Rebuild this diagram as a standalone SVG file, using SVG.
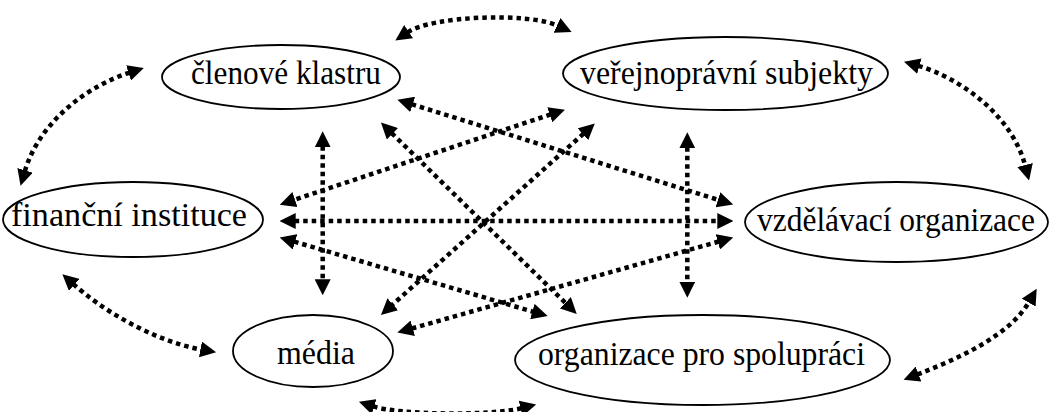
<svg xmlns="http://www.w3.org/2000/svg" width="1049" height="412" viewBox="0 0 1049 412">
  <style>
    .node ellipse { fill: #ffffff; stroke: #000000; stroke-width: 1.8; }
    .node text { font-family: 'Liberation Serif', 'Times New Roman', 'DejaVu Serif', serif; font-size: 33px; fill: #000000; text-anchor: middle; }
    .link { fill: none; stroke: #000000; stroke-width: 4.5; stroke-dasharray: 4.5 4; marker-start: url(#head); marker-end: url(#head); }
  </style>
  <defs>
    <marker id="head" viewBox="0 0 16 16" refX="1" refY="8" markerWidth="16" markerHeight="16" markerUnits="userSpaceOnUse" orient="auto-start-reverse">
      <path d="M0,0 L16,8 L0,16 z" fill="#000000"/>
    </marker>
  </defs>

  <rect width="1049" height="412" fill="#ffffff"/>

  <!-- connectors -->
  <g id="connectors">
    <!-- curved links between neighbouring nodes -->
    <path class="link" d="M 407.8 32.2 C 432 16, 528 12, 558 25.8"/>
    <path class="link" d="M 129.5 72.6 C 90 85, 40 120, 24.8 171.3"/>
    <path class="link" d="M 918.4 65.9 C 960 78, 1012 115, 1025.3 166"/>
    <path class="link" d="M 73.5 284.2 C 100 308, 150 340, 201.4 349.6"/>
    <path class="link" d="M 373.2 406.4 C 400 415, 490 416, 521.6 408.2"/>
    <path class="link" d="M 917.6 374.4 C 960 358, 1010 335, 1029.2 301.7"/>
    <!-- straight links across the middle -->
    <path class="link" d="M 322.7 146.3 L 322.7 280.3"/>
    <path class="link" d="M 687.3 147.3 L 687.3 282.7"/>
    <path class="link" d="M 294.7 221 L 718.3 221"/>
    <path class="link" d="M 391.7 133.1 L 566 303.5"/>
    <path class="link" d="M 583.6 133.6 L 392.1 305"/>
    <path class="link" d="M 411.7 104.2 L 718.9 200.1"/>
    <path class="link" d="M 550.7 114.4 L 294 199.9"/>
    <path class="link" d="M 294.1 241.6 L 533.3 311.8"/>
    <path class="link" d="M 718.8 241.5 L 411.8 328.5"/>
  </g>

  <g id="clenove-klastru" class="node">
    <ellipse cx="281" cy="77" rx="119" ry="32"/>
    <text x="286" y="84" textLength="190" lengthAdjust="spacingAndGlyphs">členové klastru</text>
  </g>
  <g id="verejnopravni-subjekty" class="node">
    <ellipse cx="725.5" cy="73.5" rx="162.5" ry="36.5"/>
    <text x="726.5" y="84" textLength="293" lengthAdjust="spacingAndGlyphs">veřejnoprávní subjekty</text>
  </g>
  <g id="financni-instituce" class="node">
    <ellipse cx="133" cy="219.5" rx="130" ry="37.5"/>
    <text x="129" y="226" textLength="236" lengthAdjust="spacingAndGlyphs">finanční instituce</text>
  </g>
  <g id="vzdelavaci-organizace" class="node">
    <ellipse cx="896.5" cy="222" rx="151.5" ry="40"/>
    <text x="896" y="231" textLength="278" lengthAdjust="spacingAndGlyphs">vzdělávací organizace</text>
  </g>
  <g id="media" class="node">
    <ellipse cx="313" cy="351" rx="80" ry="36"/>
    <text x="316" y="364" textLength="78" lengthAdjust="spacingAndGlyphs">média</text>
  </g>
  <g id="organizace-pro-spolupraci" class="node">
    <ellipse cx="702.5" cy="360" rx="187.5" ry="45"/>
    <text x="701.5" y="365" textLength="327" lengthAdjust="spacingAndGlyphs">organizace pro spolupráci</text>
  </g>
</svg>
